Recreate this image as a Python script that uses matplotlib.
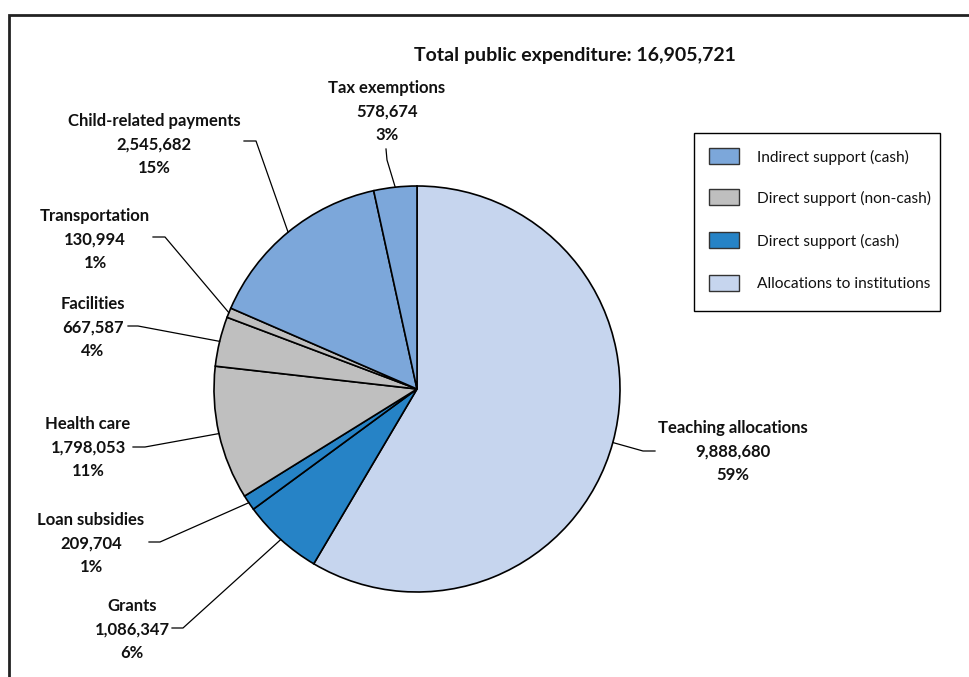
import matplotlib.pyplot as plt
import numpy as np
from matplotlib.patches import Rectangle

plt.rcParams['font.family'] = ['Lato', 'DejaVu Sans']

# public expenditure components, clockwise from 12 o'clock
labels = ["Teaching allocations", "Grants", "Loan subsidies", "Health care",
          "Facilities", "Transportation", "Child-related payments", "Tax exemptions"]
values = [9888680, 1086347, 209704, 1798053, 667587, 130994, 2545682, 578674]
shares = [59, 6, 1, 11, 4, 1, 15, 3]
groups = ["alloc", "direct_cash", "direct_cash", "direct_noncash",
          "direct_noncash", "direct_noncash", "indirect", "indirect"]

group_names = ["Indirect support (cash)", "Direct support (non-cash)",
               "Direct support (cash)", "Allocations to institutions"]
group_keys = ["indirect", "direct_noncash", "direct_cash", "alloc"]
group_colors = {"indirect": "#7CA7DA", "direct_noncash": "#BFBFBF",
                "direct_cash": "#2683C6", "alloc": "#C6D5EE"}

total = sum(values)

# label layout in pixels: text centre x, middle line y, elbow point, stub end
label_pos = [
    (733, 450, (643, 451), (655, 451)),
    (132, 628, (183, 628), (172, 628)),
    (91, 542, (160, 542), (149, 542)),
    (88, 446, (145, 447), (133, 447)),
    (93, 326, (138, 326), (128, 326)),
    (95, 238, (165, 237), (153, 237)),
    (154, 143, (256, 141), (244, 141)),
    (387, 110, (387, 160), (386, 149)),
]

fig = plt.figure(figsize=(9.70, 6.77), dpi=100)
ax = fig.add_axes([0, 0, 1, 1])

cx, cy, r = 417, 389, 203
wedges, _ = ax.pie(values, colors=[group_colors[g] for g in groups],
                   startangle=-90, counterclock=True, center=(cx, cy), radius=r,
                   wedgeprops=dict(edgecolor="black", linewidth=1.2))

ax.set_xlim(0, 970)
ax.set_ylim(677, 0)
ax.set_aspect('auto')
ax.axis('off')

for w, name, v, pct, (tx, ty, elbow, stub) in zip(wedges, labels, values, shares, label_pos):
    mid = np.deg2rad((w.theta1 + w.theta2) / 2)
    ex, ey = cx + r * np.cos(mid), cy + r * np.sin(mid)
    ax.plot([stub[0], elbow[0], ex], [stub[1], elbow[1], ey], color="black", lw=0.9)
    for dy, s in zip((-23.5, 0, 23.5), (name, f"{v:,}", f"{pct}%")):
        ax.text(tx, ty + dy + 1.5, s, ha="center", va="center", fontsize=12,
                fontweight="bold", color="#111111")

ax.text(575, 56, f"Total public expenditure: {total:,}", ha="center", va="center",
        fontsize=14, fontweight="bold", color="#111111")

# legend box
ax.add_patch(Rectangle((694, 133), 246, 178, facecolor="white", edgecolor="black", lw=1))
for i, (k, nm) in enumerate(zip(group_keys, group_names)):
    yy = [156, 197, 240, 283][i]
    ax.add_patch(Rectangle((709, yy - 8), 30, 16, facecolor=group_colors[k],
                           edgecolor="#333333", lw=1))
    ax.text(757, yy + 1, nm, ha="left", va="center", fontsize=11.2, color="#111111")

# outer frame (top and left edges visible)
ax.plot([9.5, 9.5, 975], [680, 15, 15], color="#222222", lw=2, solid_joinstyle="miter")

fig.savefig("out.png", dpi=100)
